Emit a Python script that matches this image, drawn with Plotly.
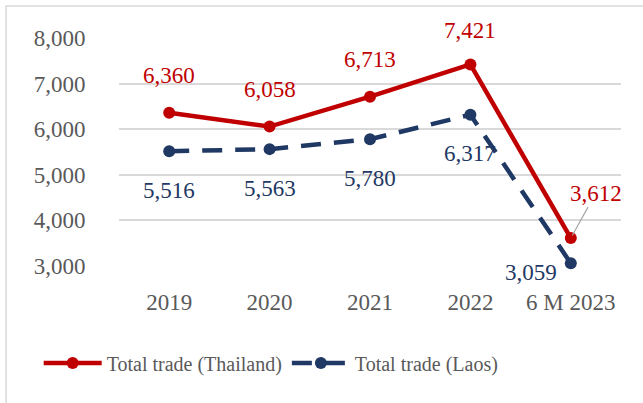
import plotly.graph_objects as go

categories = ["2019", "2020", "2021", "2022", "6 M 2023"]
thailand = [6360, 6058, 6713, 7421, 3612]
laos = [5516, 5563, 5780, 6317, 3059]
tick_vals = [3000, 4000, 5000, 6000, 7000, 8000]
tick_text = ["3,000", "4,000", "5,000", "6,000", "7,000", "8,000"]

RED = "#C00000"
BLUE = "#1F3864"
FONT = "Liberation Serif"

fig = go.Figure()
fig.add_trace(go.Scatter(
    x=categories, y=thailand, name="Total trade (Thailand)",
    mode="lines+markers", line=dict(color=RED, width=4.5),
    marker=dict(color=RED, size=12), cliponaxis=False))
fig.add_trace(go.Scatter(
    x=categories, y=laos, name="Total trade (Laos)",
    mode="lines+markers", line=dict(color=BLUE, width=4.5, dash="20px,13px"),
    marker=dict(color=BLUE, size=12), cliponaxis=False))

annotations = []
for i, v in enumerate(thailand):
    txt = f"{v:,}"
    if i == 4:
        annotations.append(dict(x=i, y=v, xref="x", yref="y", text=txt, showarrow=True,
                                arrowhead=0, arrowwidth=1.2, arrowcolor="#A6A6A6",
                                ax=25, ay=-45, standoff=3,
                                font=dict(color=RED, size=23, family=FONT)))
    else:
        annotations.append(dict(x=i, y=v, xref="x", yref="y", text=txt, showarrow=False,
                                yshift=34 if i == 3 else 37,
                                font=dict(color=RED, size=23, family=FONT)))
for i, v in enumerate(laos):
    txt = f"{v:,}"
    if i == 4:
        annotations.append(dict(x=i, y=v, xref="x", yref="y", text=txt, showarrow=False,
                                xshift=-40, yshift=-9,
                                font=dict(color=BLUE, size=23, family=FONT)))
    else:
        annotations.append(dict(x=i, y=v, xref="x", yref="y", text=txt, showarrow=False,
                                yshift=-39,
                                font=dict(color=BLUE, size=23, family=FONT)))

fig.update_layout(
    width=643, height=403,
    margin=dict(l=119, r=22, t=38, b=137, autoexpand=False),
    paper_bgcolor="white", plot_bgcolor="white",
    font=dict(family=FONT, color="#595959", size=23),
    showlegend=True,
    legend=dict(orientation="h", x=-0.16, xanchor="left", y=-0.425, yanchor="middle",
                font=dict(size=20, color="#595959", family=FONT),
                itemwidth=58, bgcolor="rgba(0,0,0,0)"),
    annotations=annotations,
    shapes=[dict(type="rect", xref="paper", yref="paper",
                 x0=-0.225, x1=1.1, y0=-0.7, y1=1.14,
                 line=dict(color="#D9D9D9", width=1.5))],
)
fig.update_xaxes(type="category", range=[-0.5, 4.5], showgrid=False, showline=False,
                 zeroline=False, ticks="outside", ticklen=15, tickcolor="rgba(0,0,0,0)",
                 tickfont=dict(size=23, color="#595959", family=FONT))
fig.update_yaxes(range=[3000, 8000], tickvals=tick_vals, ticktext=tick_text,
                 showgrid=True, gridcolor="#D9D9D9", gridwidth=1.5, zeroline=False,
                 showline=False, ticks="outside", ticklen=28, tickcolor="rgba(0,0,0,0)",
                 tickfont=dict(size=23, color="#595959", family=FONT))

fig.write_html("out.html", config={"displayModeBar": False},
               post_script="document.body.style.margin='0px';")
